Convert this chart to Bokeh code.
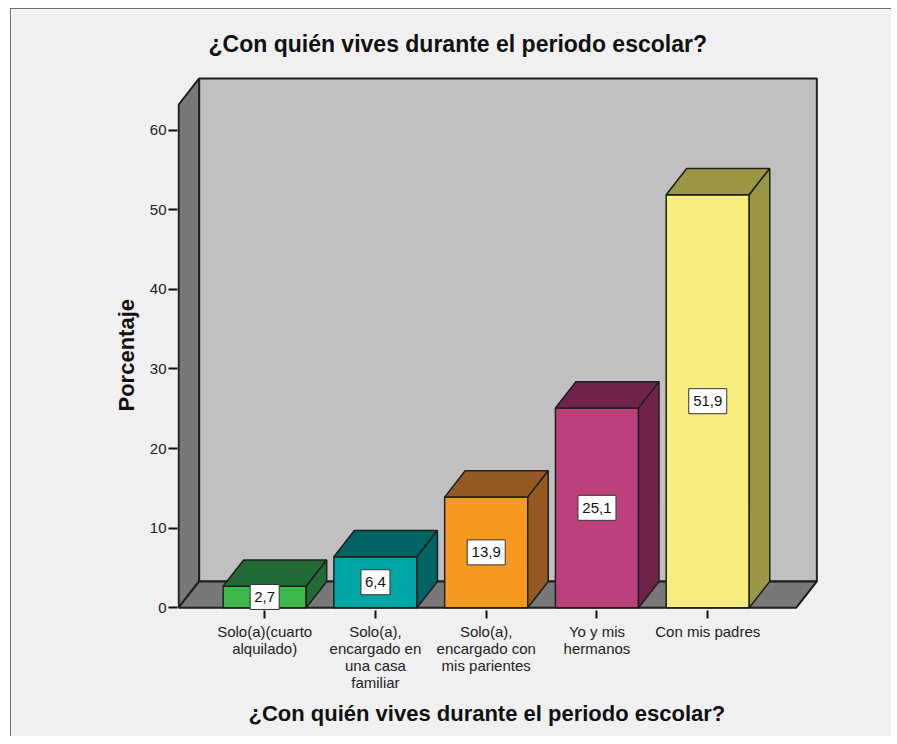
from bokeh.plotting import figure
from bokeh.models import FixedTicker, Range1d, ColumnDataSource, Title
from bokeh.core.properties import value
from bokeh.embed import file_html
from bokeh.resources import INLINE

# ---- data ----
categories = ["Solo(a)(cuarto alquilado)",
              "Solo(a), encargado en una casa familiar",
              "Solo(a), encargado con mis parientes",
              "Yo y mis hermanos",
              "Con mis padres"]
tick_labels = ["Solo(a)(cuarto\nalquilado)",
               "Solo(a),\nencargado en\nuna casa\nfamiliar",
               "Solo(a),\nencargado con\nmis parientes",
               "Yo y mis\nhermanos",
               "Con mis padres"]
percent = [2.7, 6.4, 13.9, 25.1, 51.9]
value_labels = ["2,7", "6,4", "13,9", "25,1", "51,9"]
y_ticks = [0, 10, 20, 30, 40, 50, 60]
title_text = "¿Con quién vives durante el periodo escolar?"
x_title = "¿Con quién vives durante el periodo escolar?"
y_title = "Porcentaje"

front_colors = ["#3cb84a", "#00a6a6", "#f7991f", "#bb407c", "#f7ec7c"]
dark_colors = ["#236b35", "#006464", "#955a23", "#70244c", "#9a9644"]

# ---- geometry (data units) ----
X0, X1 = -0.777, 4.80      # front floor extent
DX, DY = 0.185, 3.3        # depth offset
YMAX = 63.2                # wall height
BW = 0.75                  # bar width
LINE = "#1e1e1e"
FONT = "Liberation Sans"

p = figure(width=881, height=728, output_backend="svg", toolbar_location=None,
           x_range=Range1d(-0.787, 5.0), y_range=Range1d(-0.35, YMAX + DY + 0.25),
           min_border_left=166, min_border_right=74, min_border_top=66, min_border_bottom=127,
           background_fill_color="#f0f0f0", border_fill_color="#f0f0f0",
           outline_line_color=None,
           styles={"border-left": "1px solid #6a6a6a", "border-top": "1px solid #6a6a6a",
                   "margin-left": "10px", "margin-top": "8px"})
p.grid.visible = False

# title
p.title.text = title_text
p.title.align = "left"
p.title.offset = 31
p.title.text_font = FONT
p.title.text_font_size = "23px"
p.title.text_font_style = "bold"
p.title.text_color = "#111111"
p.title.standoff = 39

# walls
p.quad(left=X0 + DX, right=X1 + DX, bottom=DY, top=YMAX + DY,
       fill_color="#c0c0c0", line_color=LINE, line_width=2)
p.patch([X0, X0 + DX, X0 + DX, X0], [0, DY, YMAX + DY, YMAX],
        fill_color="#787878", line_color=LINE, line_width=2)
p.patch([X0, X1, X1 + DX, X0 + DX], [0, 0, DY, DY],
        fill_color="#787878", line_color=LINE, line_width=2)

# bars
idx = list(range(len(percent)))
fx, fy, tx, ty, sx, sy = [], [], [], [], [], []
for i, v in zip(idx, percent):
    l, r = i - BW / 2, i + BW / 2
    fx.append([l, r, r, l]); fy.append([0, 0, v, v])
    tx.append([l, r, r + DX, l + DX]); ty.append([v, v, v + DY, v + DY])
    sx.append([r, r + DX, r + DX, r]); sy.append([0, DY, v + DY, v])

p.patches(fx, fy, fill_color=front_colors, line_color=LINE, line_width=1.5)
p.patches(tx, ty, fill_color=dark_colors, line_color=LINE, line_width=1.5)
p.patches(sx, sy, fill_color=dark_colors, line_color=LINE, line_width=1.5)

# value labels
src = ColumnDataSource(dict(x=idx, y=[v / 2 for v in percent], text=value_labels,
                            w=[9 * len(t) + 2 for t in value_labels]))
p.rect(x="x", y="y", width="w", height=25, width_units="screen", height_units="screen",
       source=src, fill_color="white", line_color="#333333", line_width=1)
p.text(x="x", y="y", text="text", source=src, text_align="center", text_baseline="middle",
       text_font=value(FONT), text_font_size="15px", text_color="#111111")

# axes
p.yaxis.ticker = FixedTicker(ticks=y_ticks)
p.yaxis.axis_line_color = None
p.yaxis.major_tick_in = 0
p.yaxis.major_tick_out = 9
p.yaxis.major_tick_line_color = "#111111"
p.yaxis.major_tick_line_width = 2
p.yaxis.minor_tick_line_color = None
p.yaxis.major_label_standoff = 2
p.yaxis.major_label_text_font = FONT
p.yaxis.major_label_text_font_size = "15px"
p.yaxis.major_label_text_color = "#222222"

p.xaxis.ticker = FixedTicker(ticks=idx)
p.xaxis.major_label_overrides = {i: t for i, t in zip(idx, tick_labels)}
p.xaxis.axis_line_color = None
p.xaxis.major_tick_in = 0
p.xaxis.major_tick_out = 8
p.xaxis.major_tick_line_color = "#111111"
p.xaxis.major_tick_line_width = 2
p.xaxis.minor_tick_line_color = None
p.xaxis.major_label_standoff = 4
p.xaxis.major_label_orientation = "horizontal"
p.xaxis.major_label_text_font = FONT
p.xaxis.major_label_text_font_size = "15px"
p.xaxis.major_label_text_line_height = 1.0
p.xaxis.major_label_text_color = "#222222"

# axis titles as side titles (positioned relative to the front plane)
xt = Title(text=x_title, align="left", offset=71, standoff=10,
           text_font=FONT, text_font_size="22px", text_font_style="bold", text_color="#111111")
p.add_layout(xt, "below")
yt = Title(text=y_title, align="left", offset=199, standoff=15,
           text_font=FONT, text_font_size="22px", text_font_style="bold", text_color="#111111")
p.add_layout(yt, "left")

open("out.html", "w").write(file_html(p, INLINE))
